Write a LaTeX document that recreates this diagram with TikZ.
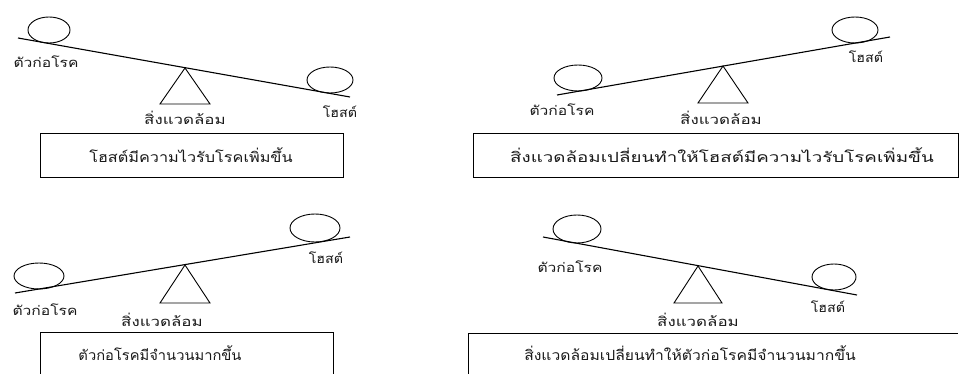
\documentclass[tikz,border=0pt]{standalone}
\usepackage{fontspec}
\usepackage{graphicx}
\newfontfamily\thaifont[Script=Thai]{Loma}
\usetikzlibrary{shapes.geometric}
\newcommand{\wide}[2]{\scalebox{#1}[1]{#2}}
\begin{document}
\begin{tikzpicture}[x=1pt,y=-1pt,
  lbl/.style={font=\thaifont\fontsize{13}{15}\selectfont, inner sep=0pt, text=black!90},
  boxtxt/.style={font=\thaifont\fontsize{14}{16}\selectfont, inner sep=0pt, text=black!90},
  ball/.style={draw, ellipse, line width=0.9pt, inner sep=0pt},
  beam/.style={line width=1.1pt},
  fulcrum/.style={line width=0.9pt},
  frame/.style={line width=0.9pt}]
\useasboundingbox (0,0) rectangle (960,374);
% ---------- panel 1 ----------
\coordinate (b1s) at (18,38); \coordinate (b1e) at (350,97);
\draw[beam] (b1s) -- (b1e);
\node[ball, minimum width=42pt, minimum height=26pt] (e1l) at (49,30) {};
\node[ball, minimum width=46pt, minimum height=26pt] (e1r) at (330,80) {};
\coordinate (t1a) at (185,68); \coordinate (t1b) at (160,104); \coordinate (t1c) at (210,104);
\draw[fulcrum] (t1a) -- (t1b) -- (t1c) -- cycle;
\node[lbl] (p1) at (46,62) {\wide{1.2}{ตัวก่อโรค}};
\node[lbl] (v1) at (185,118) {\wide{1.3}{สิ่งแวดล้อม}};
\node[lbl] (h1) at (340,112) {\wide{1.1}{โฮสต์}};
\coordinate (r1a) at (40,133); \coordinate (r1b) at (343,177);
\draw[frame] (r1a) rectangle (r1b);
\node[boxtxt] (x1) at (191,155) {\wide{1.16}{โฮสต์มีความไวรับโรคเพิ่มขึ้น}};
% ---------- panel 2 ----------
\coordinate (b2s) at (557,95); \coordinate (b2e) at (890,37);
\draw[beam] (b2s) -- (b2e);
\node[ball, minimum width=48pt, minimum height=26pt] (e2l) at (578,78) {};
\node[ball, minimum width=46pt, minimum height=26pt] (e2r) at (855,30) {};
\coordinate (t2a) at (723,66); \coordinate (t2b) at (698,103); \coordinate (t2c) at (748,103);
\draw[fulcrum] (t2a) -- (t2b) -- (t2c) -- cycle;
\node[lbl] (p2) at (562,110) {\wide{1.2}{ตัวก่อโรค}};
\node[lbl] (v2) at (721,118) {\wide{1.3}{สิ่งแวดล้อม}};
\node[lbl] (h2) at (866,57) {\wide{1.1}{โฮสต์}};
\coordinate (r2a) at (473,133); \coordinate (r2b) at (958,177);
\draw[frame] (r2a) rectangle (r2b);
\node[boxtxt] (x2) at (722,155) {\wide{1.34}{สิ่งแวดล้อมเปลี่ยนทำให้โฮสต์มีความไวรับโรคเพิ่มขึ้น}};
% ---------- panel 3 ----------
\coordinate (b3s) at (15,293); \coordinate (b3e) at (350,237);
\draw[beam] (b3s) -- (b3e);
\node[ball, minimum width=50pt, minimum height=26pt] (e3l) at (39,276) {};
\node[ball, minimum width=50pt, minimum height=28pt] (e3r) at (315,228) {};
\coordinate (t3a) at (185,265); \coordinate (t3b) at (160,303); \coordinate (t3c) at (210,303);
\draw[fulcrum] (t3a) -- (t3b) -- (t3c) -- cycle;
\node[lbl] (p3) at (45,310) {\wide{1.2}{ตัวก่อโรค}};
\node[lbl] (v3) at (162,320) {\wide{1.3}{สิ่งแวดล้อม}};
\node[lbl] (h3) at (326,258) {\wide{1.1}{โฮสต์}};
\coordinate (r3a) at (40,376); \coordinate (r3b) at (40,332); \coordinate (r3c) at (333,332); \coordinate (r3d) at (333,376);
\draw[frame] (r3a) -- (r3b) -- (r3c) -- (r3d);
\node[boxtxt] (x3) at (160,353) {\wide{1.05}{ตัวก่อโรคมีจำนวนมากขึ้น}};
% ---------- panel 4 ----------
\coordinate (b4s) at (543,237); \coordinate (b4e) at (857,295);
\draw[beam] (b4s) -- (b4e);
\node[ball, minimum width=48pt, minimum height=28pt] (e4l) at (577,229) {};
\node[ball, minimum width=44pt, minimum height=26pt] (e4r) at (834,277) {};
\coordinate (t4a) at (698,266); \coordinate (t4b) at (674,303); \coordinate (t4c) at (722,303);
\draw[fulcrum] (t4a) -- (t4b) -- (t4c) -- cycle;
\node[lbl] (p4) at (570,267) {\wide{1.2}{ตัวก่อโรค}};
\node[lbl] (v4) at (698,320) {\wide{1.3}{สิ่งแวดล้อม}};
\node[lbl] (h4) at (828,307) {\wide{1.1}{โฮสต์}};
\coordinate (r4a) at (468,376); \coordinate (r4b) at (468,333); \coordinate (r4c) at (958,333);
\draw[frame] (r4a) -- (r4b) -- (r4c);
\node[boxtxt] (x4) at (690,353) {\wide{1.12}{สิ่งแวดล้อมเปลี่ยนทำให้ตัวก่อโรคมีจำนวนมากขึ้น}};
\end{tikzpicture}
\end{document}
